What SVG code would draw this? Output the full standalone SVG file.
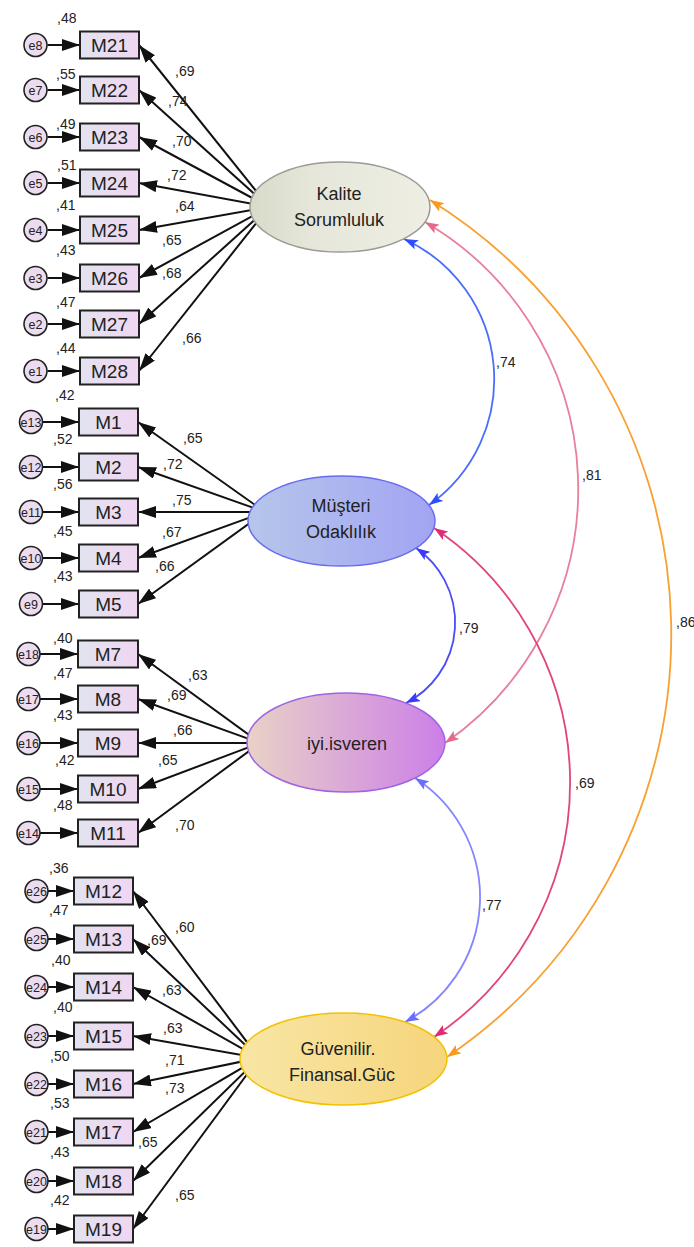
<svg xmlns="http://www.w3.org/2000/svg" width="694" height="1247" viewBox="0 0 694 1247">
<style>
.ln{stroke:#111;stroke-width:2;fill:none;marker-end:url(#ab)}
.ar{fill:none;stroke-width:1.8}
.bx{fill:url(#gbox);stroke:#222;stroke-width:2}
.ec{fill:#ecdcf0;stroke:#222;stroke-width:1.6}
text{font-family:"Liberation Sans",Arial,sans-serif;fill:#222}
.v{font-size:14px}
.m{font-size:19px;text-anchor:middle}
.e{font-size:12.5px;text-anchor:middle}
.L{font-size:18px;text-anchor:middle}
</style>
<defs>
<linearGradient id="gbox" x1="0" x2="1" y1="0" y2="0"><stop offset="0" stop-color="#e2e3f0"/><stop offset="1" stop-color="#f0d6f2"/></linearGradient>
<linearGradient id="gK" x1="0" x2="1"><stop offset="0" stop-color="#d7dbc9"/><stop offset="0.35" stop-color="#e6e7da"/><stop offset="1" stop-color="#eeeee4"/></linearGradient>
<linearGradient id="gM" x1="0" x2="1"><stop offset="0" stop-color="#b6c6ea"/><stop offset="1" stop-color="#a2a4f3"/></linearGradient>
<linearGradient id="gI" x1="0" x2="1"><stop offset="0" stop-color="#e8d2c6"/><stop offset="1" stop-color="#cc7fe8"/></linearGradient>
<linearGradient id="gG" x1="0" x2="1"><stop offset="0" stop-color="#f8e6a4"/><stop offset="1" stop-color="#f6d57c"/></linearGradient>
<marker id="ab" markerUnits="userSpaceOnUse" viewBox="0 0 18 12" markerWidth="18" markerHeight="12" refX="18" refY="6" orient="auto"><path d="M0,0 L18,6 L0,12 z" fill="#111"/></marker>
<marker id="mO" markerUnits="userSpaceOnUse" viewBox="0 0 14 10" markerWidth="14" markerHeight="10" refX="14" refY="5" orient="auto-start-reverse"><path d="M0,0 L14,5 L0,10 L3,5 z" fill="#f89a20"/></marker>
<marker id="mP" markerUnits="userSpaceOnUse" viewBox="0 0 14 10" markerWidth="14" markerHeight="10" refX="14" refY="5" orient="auto-start-reverse"><path d="M0,0 L14,5 L0,10 L3,5 z" fill="#e46a8c"/></marker>
<marker id="mB" markerUnits="userSpaceOnUse" viewBox="0 0 14 10" markerWidth="14" markerHeight="10" refX="14" refY="5" orient="auto-start-reverse"><path d="M0,0 L14,5 L0,10 L3,5 z" fill="#2f4cff"/></marker>
<marker id="mC" markerUnits="userSpaceOnUse" viewBox="0 0 14 10" markerWidth="14" markerHeight="10" refX="14" refY="5" orient="auto-start-reverse"><path d="M0,0 L14,5 L0,10 L3,5 z" fill="#e02a72"/></marker>
<marker id="mV" markerUnits="userSpaceOnUse" viewBox="0 0 14 10" markerWidth="14" markerHeight="10" refX="14" refY="5" orient="auto-start-reverse"><path d="M0,0 L14,5 L0,10 L3,5 z" fill="#3a3af6"/></marker>
<marker id="mL" markerUnits="userSpaceOnUse" viewBox="0 0 14 10" markerWidth="14" markerHeight="10" refX="14" refY="5" orient="auto-start-reverse"><path d="M0,0 L14,5 L0,10 L3,5 z" fill="#6a6cff"/></marker>
</defs>
<rect width="694" height="1247" fill="#ffffff"/>
<g id="connectors">
<!-- error arrows -->
<line class="ln" x1="47.5" y1="45" x2="80" y2="45"/>
<line class="ln" x1="47.5" y1="90" x2="80" y2="90"/>
<line class="ln" x1="47.5" y1="137" x2="80" y2="137"/>
<line class="ln" x1="47.5" y1="183" x2="80" y2="183"/>
<line class="ln" x1="47.5" y1="230" x2="80" y2="230"/>
<line class="ln" x1="47.5" y1="278" x2="80" y2="278"/>
<line class="ln" x1="47.5" y1="324" x2="80" y2="324"/>
<line class="ln" x1="47.5" y1="371" x2="80" y2="371"/>
<line class="ln" x1="42.5" y1="422" x2="79" y2="422"/>
<line class="ln" x1="42.5" y1="467" x2="79" y2="467"/>
<line class="ln" x1="42.5" y1="512" x2="79" y2="512"/>
<line class="ln" x1="42.5" y1="558" x2="79" y2="558"/>
<line class="ln" x1="42.5" y1="604" x2="79" y2="604"/>
<line class="ln" x1="40" y1="654" x2="78" y2="654"/>
<line class="ln" x1="40" y1="699" x2="78" y2="699"/>
<line class="ln" x1="40" y1="743" x2="78" y2="743"/>
<line class="ln" x1="40" y1="789" x2="78" y2="789"/>
<line class="ln" x1="40" y1="833" x2="78" y2="833"/>
<line class="ln" x1="48" y1="891" x2="74" y2="891"/>
<line class="ln" x1="48" y1="939" x2="74" y2="939"/>
<line class="ln" x1="48" y1="987" x2="74" y2="987"/>
<line class="ln" x1="48" y1="1036" x2="74" y2="1036"/>
<line class="ln" x1="48" y1="1084" x2="74" y2="1084"/>
<line class="ln" x1="48" y1="1132" x2="74" y2="1132"/>
<line class="ln" x1="48" y1="1181" x2="74" y2="1181"/>
<line class="ln" x1="48" y1="1229" x2="74" y2="1229"/>
<!-- loadings -->
<line class="ln" x1="269" y1="207" x2="139" y2="45"/>
<line class="ln" x1="269" y1="207" x2="139" y2="90"/>
<line class="ln" x1="269" y1="207" x2="139" y2="137"/>
<line class="ln" x1="269" y1="207" x2="139" y2="183"/>
<line class="ln" x1="269" y1="207" x2="139" y2="230"/>
<line class="ln" x1="269" y1="207" x2="139" y2="278"/>
<line class="ln" x1="269" y1="207" x2="139" y2="324"/>
<line class="ln" x1="269" y1="207" x2="139" y2="371"/>
<line class="ln" x1="265" y1="512" x2="138" y2="422"/>
<line class="ln" x1="265" y1="512" x2="138" y2="467"/>
<line class="ln" x1="265" y1="512" x2="138" y2="512"/>
<line class="ln" x1="265" y1="512" x2="138" y2="558"/>
<line class="ln" x1="265" y1="512" x2="138" y2="604"/>
<line class="ln" x1="260" y1="743" x2="138" y2="654"/>
<line class="ln" x1="260" y1="743" x2="138" y2="699"/>
<line class="ln" x1="260" y1="743" x2="138" y2="743"/>
<line class="ln" x1="260" y1="743" x2="138" y2="789"/>
<line class="ln" x1="260" y1="743" x2="138" y2="833"/>
<line class="ln" x1="259" y1="1058" x2="133" y2="891"/>
<line class="ln" x1="259" y1="1058" x2="133" y2="939"/>
<line class="ln" x1="259" y1="1058" x2="133" y2="987"/>
<line class="ln" x1="259" y1="1058" x2="133" y2="1036"/>
<line class="ln" x1="259" y1="1058" x2="133" y2="1084"/>
<line class="ln" x1="259" y1="1058" x2="133" y2="1132"/>
<line class="ln" x1="259" y1="1058" x2="133" y2="1181"/>
<line class="ln" x1="259" y1="1058" x2="133" y2="1229"/>
<!-- covariances -->
<path class="ar" d="M430,200 A511 511 0 0 1 447,1057" stroke="#f8a030" marker-start="url(#mO)" marker-end="url(#mO)"/>
<path class="ar" d="M425,222 A309 309 0 0 1 445,743" stroke="#e8809c" marker-start="url(#mP)" marker-end="url(#mP)"/>
<path class="ar" d="M404,239 A154 154 0 0 1 429,505" stroke="#4a6cff" marker-start="url(#mB)" marker-end="url(#mB)"/>
<path class="ar" d="M434,528 A306 306 0 0 1 434,1037" stroke="#e2447e" marker-start="url(#mC)" marker-end="url(#mC)"/>
<path class="ar" d="M416,548 A90.5 90.5 0 0 1 406,703" stroke="#4a4cf8" marker-start="url(#mV)" marker-end="url(#mV)"/>
<path class="ar" d="M415,778 A141.5 141.5 0 0 1 405,1022" stroke="#8486ff" marker-start="url(#mL)" marker-end="url(#mL)"/>
<!-- loading labels -->
<text class="v" x="175" y="76">,69</text>
<text class="v" x="168" y="106">,74</text>
<text class="v" x="172" y="146">,70</text>
<text class="v" x="167" y="180">,72</text>
<text class="v" x="175" y="211">,64</text>
<text class="v" x="162" y="245">,65</text>
<text class="v" x="162" y="278">,68</text>
<text class="v" x="182" y="343">,66</text>
<text class="v" x="183" y="443">,65</text>
<text class="v" x="163" y="469">,72</text>
<text class="v" x="172" y="505">,75</text>
<text class="v" x="162" y="537">,67</text>
<text class="v" x="155" y="571">,66</text>
<text class="v" x="188" y="680">,63</text>
<text class="v" x="167" y="700">,69</text>
<text class="v" x="173" y="735">,66</text>
<text class="v" x="158" y="765">,65</text>
<text class="v" x="175" y="830">,70</text>
<text class="v" x="175" y="932">,60</text>
<text class="v" x="147" y="945">,69</text>
<text class="v" x="162" y="995">,63</text>
<text class="v" x="163" y="1033">,63</text>
<text class="v" x="165" y="1065">,71</text>
<text class="v" x="165" y="1093">,73</text>
<text class="v" x="138" y="1147">,65</text>
<text class="v" x="175" y="1200">,65</text>
<text class="v" x="496" y="367">,74</text>
<text class="v" x="582" y="480">,81</text>
<text class="v" x="676" y="627">,86</text>
<text class="v" x="459" y="633">,79</text>
<text class="v" x="575" y="788">,69</text>
<text class="v" x="482" y="910">,77</text>
</g>
<!-- error nodes -->
<g id="e8"><circle class="ec" cx="35.5" cy="45" r="11.5"/><text class="e" x="35.5" y="49.5">e8</text></g>
<g id="e7"><circle class="ec" cx="35.5" cy="90" r="11.5"/><text class="e" x="35.5" y="94.5">e7</text></g>
<g id="e6"><circle class="ec" cx="35.5" cy="137" r="11.5"/><text class="e" x="35.5" y="141.5">e6</text></g>
<g id="e5"><circle class="ec" cx="35.5" cy="183" r="11.5"/><text class="e" x="35.5" y="187.5">e5</text></g>
<g id="e4"><circle class="ec" cx="35.5" cy="230" r="11.5"/><text class="e" x="35.5" y="234.5">e4</text></g>
<g id="e3"><circle class="ec" cx="35.5" cy="278" r="11.5"/><text class="e" x="35.5" y="282.5">e3</text></g>
<g id="e2"><circle class="ec" cx="35.5" cy="324" r="11.5"/><text class="e" x="35.5" y="328.5">e2</text></g>
<g id="e1"><circle class="ec" cx="35.5" cy="371" r="11.5"/><text class="e" x="35.5" y="375.5">e1</text></g>
<g id="e13"><circle class="ec" cx="31" cy="422" r="11.5"/><text class="e" x="31" y="426.5">e13</text></g>
<g id="e12"><circle class="ec" cx="31" cy="467" r="11.5"/><text class="e" x="31" y="471.5">e12</text></g>
<g id="e11"><circle class="ec" cx="31" cy="512" r="11.5"/><text class="e" x="31" y="516.5">e11</text></g>
<g id="e10"><circle class="ec" cx="31" cy="558" r="11.5"/><text class="e" x="31" y="562.5">e10</text></g>
<g id="e9"><circle class="ec" cx="31" cy="604" r="11.5"/><text class="e" x="31" y="608.5">e9</text></g>
<g id="e18"><circle class="ec" cx="28.5" cy="654" r="11.5"/><text class="e" x="28.5" y="658.5">e18</text></g>
<g id="e17"><circle class="ec" cx="28.5" cy="699" r="11.5"/><text class="e" x="28.5" y="703.5">e17</text></g>
<g id="e16"><circle class="ec" cx="28.5" cy="743" r="11.5"/><text class="e" x="28.5" y="747.5">e16</text></g>
<g id="e15"><circle class="ec" cx="28.5" cy="789" r="11.5"/><text class="e" x="28.5" y="793.5">e15</text></g>
<g id="e14"><circle class="ec" cx="28.5" cy="833" r="11.5"/><text class="e" x="28.5" y="837.5">e14</text></g>
<g id="e26"><circle class="ec" cx="36.5" cy="891" r="11.5"/><text class="e" x="36.5" y="895.5">e26</text></g>
<g id="e25"><circle class="ec" cx="36.5" cy="939" r="11.5"/><text class="e" x="36.5" y="943.5">e25</text></g>
<g id="e24"><circle class="ec" cx="36.5" cy="987" r="11.5"/><text class="e" x="36.5" y="991.5">e24</text></g>
<g id="e23"><circle class="ec" cx="36.5" cy="1036" r="11.5"/><text class="e" x="36.5" y="1040.5">e23</text></g>
<g id="e22"><circle class="ec" cx="36.5" cy="1084" r="11.5"/><text class="e" x="36.5" y="1088.5">e22</text></g>
<g id="e21"><circle class="ec" cx="36.5" cy="1132" r="11.5"/><text class="e" x="36.5" y="1136.5">e21</text></g>
<g id="e20"><circle class="ec" cx="36.5" cy="1181" r="11.5"/><text class="e" x="36.5" y="1185.5">e20</text></g>
<g id="e19"><circle class="ec" cx="36.5" cy="1229" r="11.5"/><text class="e" x="36.5" y="1233.5">e19</text></g>
<!-- observed nodes -->
<g id="M21"><rect class="bx" x="80" y="31.5" width="59" height="27"/><text class="m" x="109.5" y="52">M21</text><text class="v" x="57" y="23">,48</text></g>
<g id="M22"><rect class="bx" x="80" y="76.5" width="59" height="27"/><text class="m" x="109.5" y="97">M22</text><text class="v" x="56" y="79">,55</text></g>
<g id="M23"><rect class="bx" x="80" y="123.5" width="59" height="27"/><text class="m" x="109.5" y="144">M23</text><text class="v" x="56" y="129">,49</text></g>
<g id="M24"><rect class="bx" x="80" y="169.5" width="59" height="27"/><text class="m" x="109.5" y="190">M24</text><text class="v" x="57" y="170">,51</text></g>
<g id="M25"><rect class="bx" x="80" y="216.5" width="59" height="27"/><text class="m" x="109.5" y="237">M25</text><text class="v" x="56" y="210">,41</text></g>
<g id="M26"><rect class="bx" x="80" y="264.5" width="59" height="27"/><text class="m" x="109.5" y="285">M26</text><text class="v" x="56" y="255">,43</text></g>
<g id="M27"><rect class="bx" x="80" y="310.5" width="59" height="27"/><text class="m" x="109.5" y="331">M27</text><text class="v" x="56" y="307">,47</text></g>
<g id="M28"><rect class="bx" x="80" y="357.5" width="59" height="27"/><text class="m" x="109.5" y="378">M28</text><text class="v" x="56" y="353">,44</text></g>
<g id="M1"><rect class="bx" x="79" y="408.5" width="59" height="27"/><text class="m" x="108.5" y="429">M1</text><text class="v" x="55" y="400">,42</text></g>
<g id="M2"><rect class="bx" x="79" y="453.5" width="59" height="27"/><text class="m" x="108.5" y="474">M2</text><text class="v" x="53" y="444">,52</text></g>
<g id="M3"><rect class="bx" x="79" y="498.5" width="59" height="27"/><text class="m" x="108.5" y="519">M3</text><text class="v" x="53" y="489">,56</text></g>
<g id="M4"><rect class="bx" x="79" y="544.5" width="59" height="27"/><text class="m" x="108.5" y="565">M4</text><text class="v" x="53" y="536">,45</text></g>
<g id="M5"><rect class="bx" x="79" y="590.5" width="59" height="27"/><text class="m" x="108.5" y="611">M5</text><text class="v" x="53" y="581">,43</text></g>
<g id="M7"><rect class="bx" x="78" y="640.5" width="60" height="27"/><text class="m" x="108" y="661">M7</text><text class="v" x="53" y="643">,40</text></g>
<g id="M8"><rect class="bx" x="78" y="685.5" width="60" height="27"/><text class="m" x="108" y="706">M8</text><text class="v" x="53" y="678">,47</text></g>
<g id="M9"><rect class="bx" x="78" y="729.5" width="60" height="27"/><text class="m" x="108" y="750">M9</text><text class="v" x="53" y="720">,43</text></g>
<g id="M10"><rect class="bx" x="78" y="775.5" width="60" height="27"/><text class="m" x="108" y="796">M10</text><text class="v" x="55" y="765">,42</text></g>
<g id="M11"><rect class="bx" x="78" y="819.5" width="60" height="27"/><text class="m" x="108" y="840">M11</text><text class="v" x="53" y="810">,48</text></g>
<g id="M12"><rect class="bx" x="74" y="877.5" width="59" height="27"/><text class="m" x="103.5" y="898">M12</text><text class="v" x="49" y="873">,36</text></g>
<g id="M13"><rect class="bx" x="74" y="925.5" width="59" height="27"/><text class="m" x="103.5" y="946">M13</text><text class="v" x="49" y="915">,47</text></g>
<g id="M14"><rect class="bx" x="74" y="973.5" width="59" height="27"/><text class="m" x="103.5" y="994">M14</text><text class="v" x="51" y="965">,40</text></g>
<g id="M15"><rect class="bx" x="74" y="1022.5" width="59" height="27"/><text class="m" x="103.5" y="1043">M15</text><text class="v" x="53" y="1012">,40</text></g>
<g id="M16"><rect class="bx" x="74" y="1070.5" width="59" height="27"/><text class="m" x="103.5" y="1091">M16</text><text class="v" x="50" y="1061">,50</text></g>
<g id="M17"><rect class="bx" x="74" y="1118.5" width="59" height="27"/><text class="m" x="103.5" y="1139">M17</text><text class="v" x="50" y="1108">,53</text></g>
<g id="M18"><rect class="bx" x="74" y="1167.5" width="59" height="27"/><text class="m" x="103.5" y="1188">M18</text><text class="v" x="50" y="1157">,43</text></g>
<g id="M19"><rect class="bx" x="74" y="1215.5" width="59" height="27"/><text class="m" x="103.5" y="1236">M19</text><text class="v" x="50" y="1205">,42</text></g>
<!-- latent nodes -->
<g id="Kalite"><ellipse cx="340" cy="207" rx="90" ry="45" fill="url(#gK)" stroke="#9a9a96" stroke-width="1.5"/><text class="L" x="339" y="200">Kalite</text><text class="L" x="339" y="226">Sorumluluk</text></g>
<g id="Musteri"><ellipse cx="341.5" cy="521" rx="93.5" ry="45" fill="url(#gM)" stroke="#6a6cf0" stroke-width="1.5"/><text class="L" x="341" y="512">Müşteri</text><text class="L" x="341" y="538">Odaklılık</text></g>
<g id="iyi"><ellipse cx="346" cy="742.5" rx="99" ry="49.5" fill="url(#gI)" stroke="#a064e0" stroke-width="1.5"/><text class="L" x="347" y="750">iyi.isveren</text></g>
<g id="Guvenilir"><ellipse cx="343.5" cy="1059" rx="103.5" ry="46" fill="url(#gG)" stroke="#f2c200" stroke-width="1.5"/><text class="L" x="338" y="1055">Güvenilir.</text><text class="L" x="342" y="1081">Finansal.Güc</text></g>
</svg>
